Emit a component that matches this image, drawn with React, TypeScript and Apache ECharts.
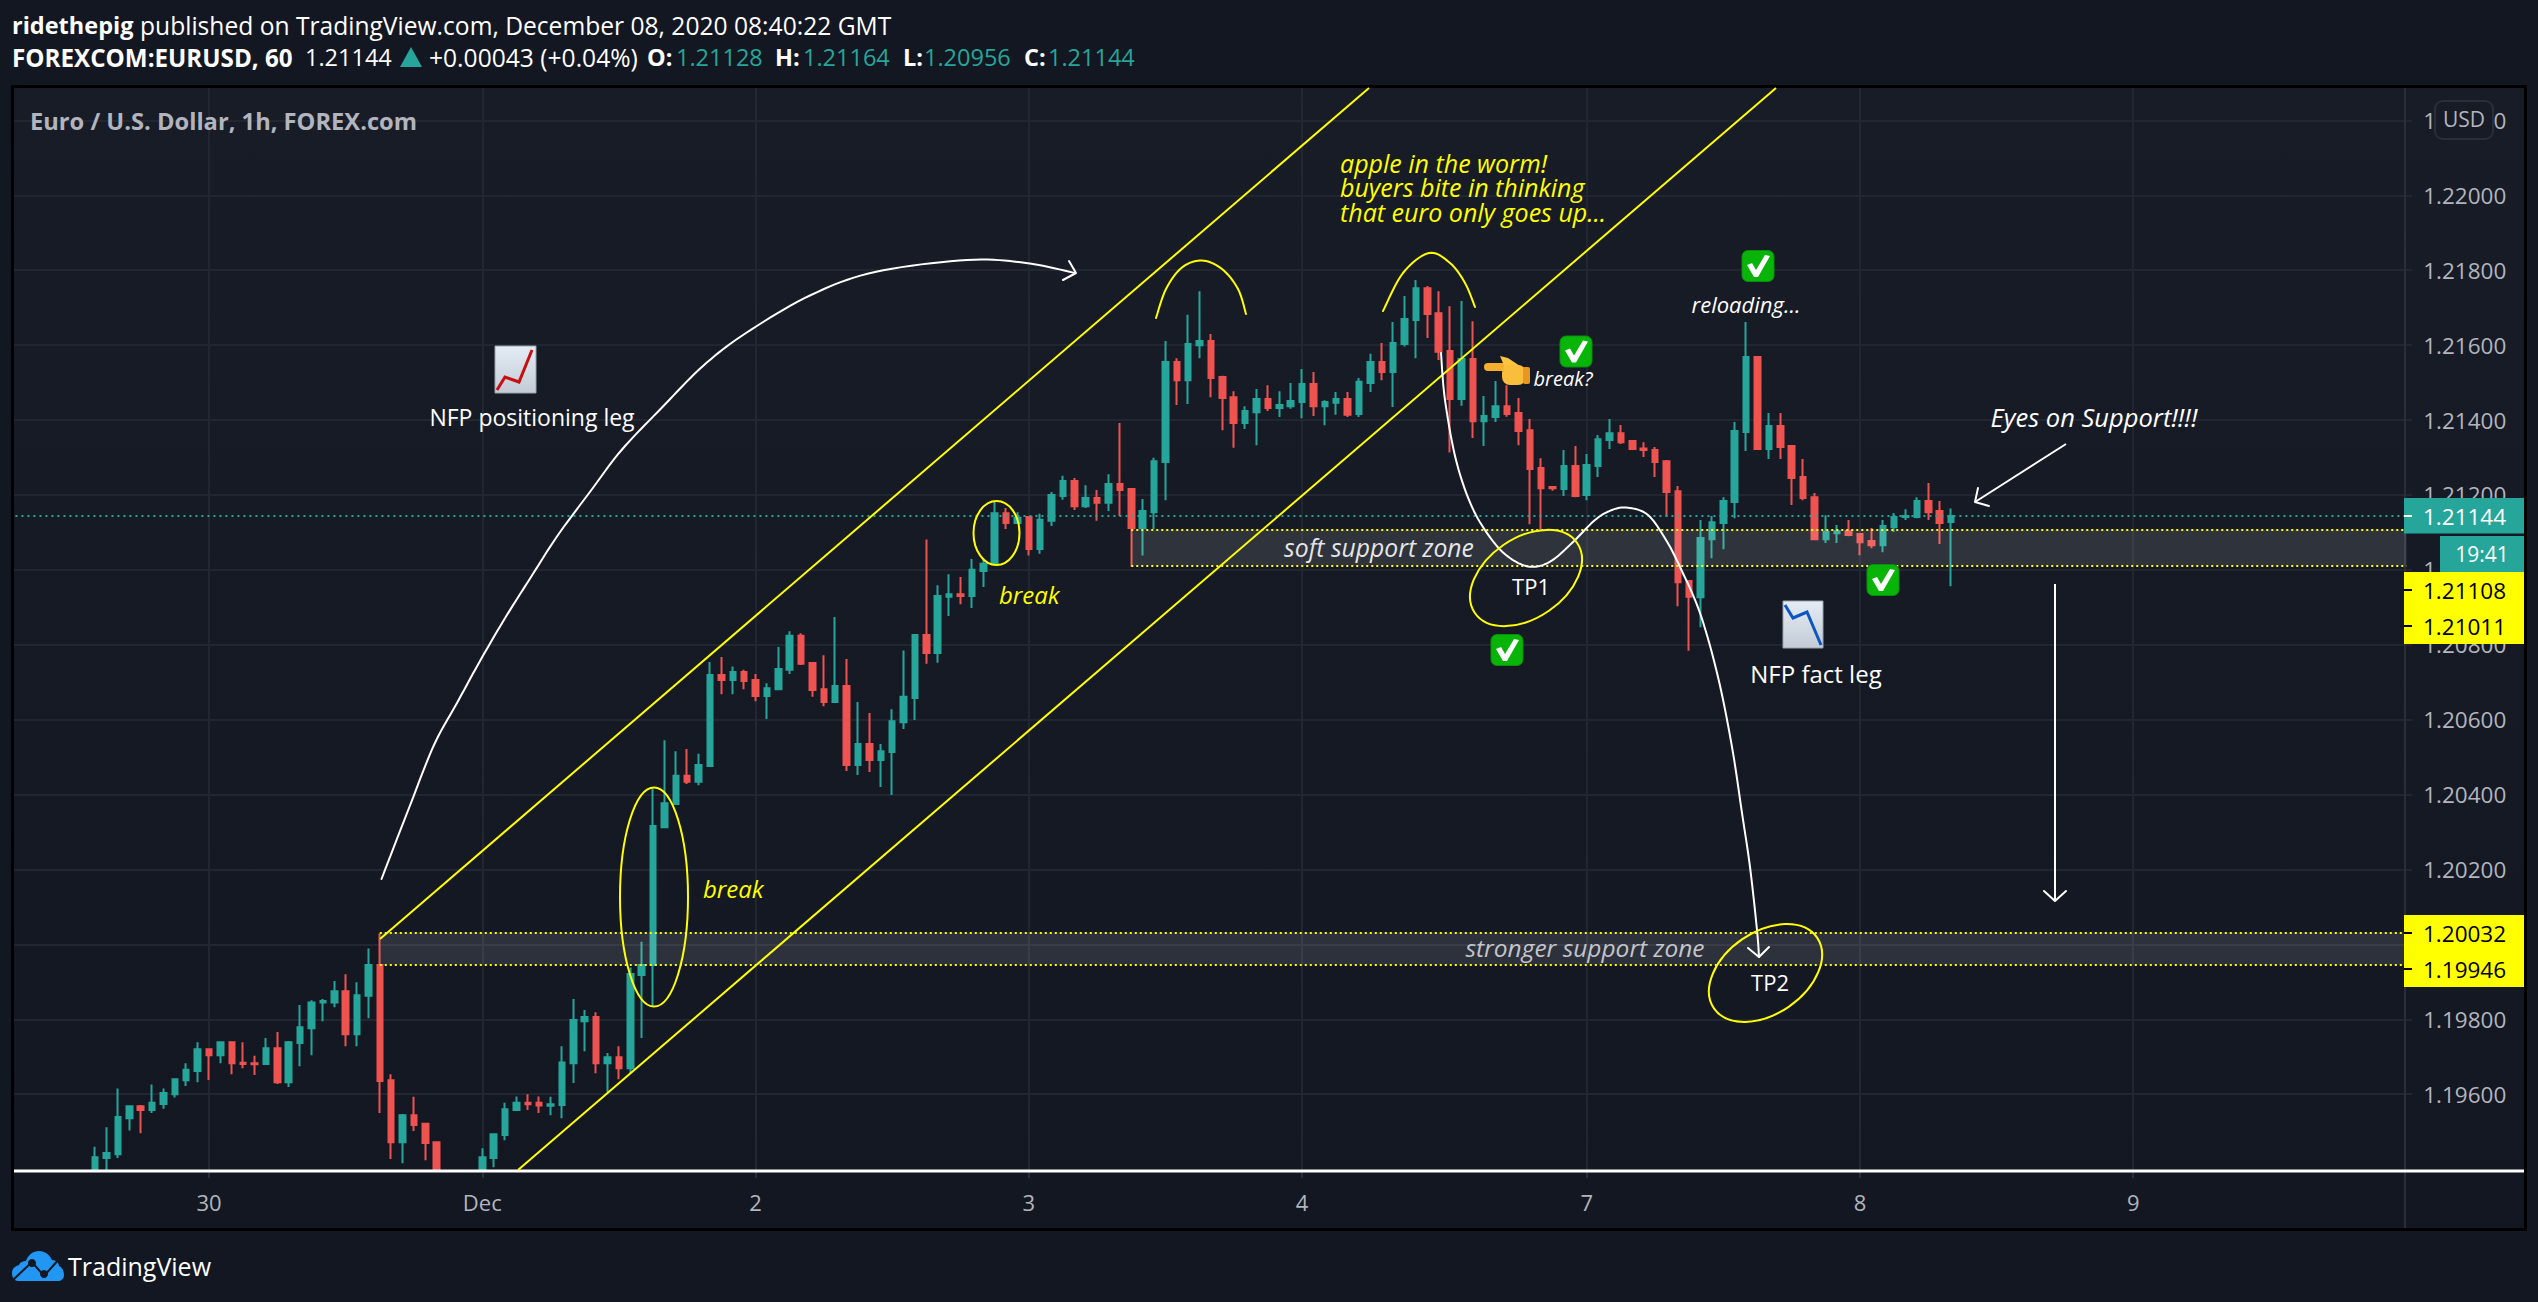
import React, { useEffect, useRef } from "react";
import * as echarts from "echarts";

const FONT = '"Open Sans", sans-serif';
const PAGE = "#131722";
const TEAL = "#26a69a";
const RED = "#ef5350";
const YELLOW = "#ffff00";
const AXIS_TEXT = "#b2b5be";

const slotCount = 211;
const firstCandleSlot = 7;
const dayTickSlots = [17, 41, 65, 89, 113, 138, 162, 186];
const dayTickLabels = ["30", "Dec", "2", "3", "4", "7", "8", "9"];
const priceTicks = [1.196, 1.198, 1.2, 1.202, 1.204, 1.206, 1.208, 1.21, 1.212, 1.214, 1.216, 1.218, 1.22, 1.222];
const lastPrice = 1.21144;
const softZone = [1.21108, 1.21011];
const strongZone = [1.20032, 1.19946];

const opens = [
  1.19396, 1.19430, 1.19440, 1.19536, 1.19568, 1.19558, 1.19574, 1.19600, 1.19637, 1.19662,
  1.19720, 1.19704, 1.19739, 1.19684, 1.19683, 1.19681, 1.19723, 1.19632, 1.19737, 1.19776,
  1.19845, 1.19845, 1.19875, 1.19760, 1.19863, 1.19945, 1.19637, 1.19472, 1.19544, 1.19521,
  1.19472, 1.19380, 1.19370, 1.19385, 1.19396, 1.19430, 1.19491, 1.19558, 1.19577, 1.19577,
  1.19569, 1.19571, 1.19683, 1.19795, 1.19806, 1.19683, 1.19699, 1.19669, 1.19918, 1.19945,
  1.20313, 1.20375, 1.20450, 1.20434, 1.20476, 1.20719, 1.20706, 1.20727, 1.20706, 1.20663,
  1.20681, 1.20733, 1.20824, 1.20751, 1.20681, 1.20647, 1.20690, 1.20479, 1.20535, 1.20492,
  1.20514, 1.20593, 1.20658, 1.20826, 1.20778, 1.20928, 1.20935, 1.20930, 1.20997, 1.21016,
  1.21151, 1.21125, 1.21141, 1.21056, 1.21131, 1.21197, 1.21237, 1.21170, 1.21192, 1.21179,
  1.21229, 1.21216, 1.21111, 1.21154, 1.21288, 1.21555, 1.21506, 1.21600, 1.21611, 1.21515,
  1.21461, 1.21392, 1.21421, 1.21456, 1.21432, 1.21437, 1.21448, 1.21496, 1.21437, 1.21446,
  1.21456, 1.21416, 1.21499, 1.21555, 1.21528, 1.21603, 1.21667, 1.21752, 1.21685, 1.21584,
  1.21456, 1.21563, 1.21397, 1.21408, 1.21437, 1.21419, 1.21373, 1.21272, 1.21221, 1.21216,
  1.21277, 1.21200, 1.21277, 1.21347, 1.21365, 1.21344, 1.21324, 1.21320, 1.21290, 1.21210,
  1.20970, 1.20927, 1.21082, 1.21125, 1.21181, 1.21368, 1.21568, 1.21323, 1.21384, 1.21331,
  1.21248, 1.21194, 1.21082, 1.21098, 1.21103, 1.21096, 1.21077, 1.21066, 1.21114, 1.21141,
  1.21141, 1.21184, 1.21157, 1.21128,
];
const closes = [
  1.19432, 1.19443, 1.19539, 1.19568, 1.19558, 1.19577, 1.19603, 1.19640, 1.19665, 1.19720,
  1.19704, 1.19739, 1.19683, 1.19681, 1.19680, 1.19723, 1.19632, 1.19739, 1.19779, 1.19845,
  1.19849, 1.19875, 1.19760, 1.19864, 1.19945, 1.19635, 1.19472, 1.19544, 1.19518, 1.19470,
  1.19396, 1.19370, 1.19385, 1.19390, 1.19432, 1.19493, 1.19560, 1.19577, 1.19573, 1.19570,
  1.19573, 1.19685, 1.19798, 1.19806, 1.19683, 1.19699, 1.19669, 1.19921, 1.19945, 1.20316,
  1.20377, 1.20450, 1.20434, 1.20479, 1.20719, 1.20706, 1.20727, 1.20703, 1.20663, 1.20684,
  1.20735, 1.20824, 1.20749, 1.20679, 1.20647, 1.20690, 1.20479, 1.20535, 1.20492, 1.20516,
  1.20596, 1.20661, 1.20826, 1.20778, 1.20930, 1.20935, 1.20930, 1.21000, 1.21016, 1.21151,
  1.21125, 1.21139, 1.21056, 1.21134, 1.21200, 1.21237, 1.21170, 1.21192, 1.21179, 1.21229,
  1.21213, 1.21112, 1.21157, 1.21290, 1.21555, 1.21506, 1.21603, 1.21611, 1.21512, 1.21459,
  1.21392, 1.21424, 1.21456, 1.21432, 1.21440, 1.21451, 1.21496, 1.21437, 1.21448, 1.21456,
  1.21414, 1.21502, 1.21555, 1.21528, 1.21606, 1.21670, 1.21752, 1.21683, 1.21582, 1.21456,
  1.21563, 1.21397, 1.21411, 1.21437, 1.21416, 1.21371, 1.21269, 1.21218, 1.21218, 1.21277,
  1.21197, 1.21280, 1.21349, 1.21365, 1.21341, 1.21323, 1.21320, 1.21288, 1.21208, 1.20967,
  1.20928, 1.21085, 1.21127, 1.21184, 1.21371, 1.21568, 1.21323, 1.21384, 1.21328, 1.21245,
  1.21192, 1.21082, 1.21101, 1.21103, 1.21093, 1.21074, 1.21066, 1.21117, 1.21141, 1.21144,
  1.21184, 1.21154, 1.21125, 1.21144,
];
const highs = [
  1.19460, 1.19512, 1.19615, 1.19570, 1.19571, 1.19626, 1.19615, 1.19642, 1.19683, 1.19739,
  1.19723, 1.19740, 1.19740, 1.19739, 1.19703, 1.19750, 1.19766, 1.19742, 1.19838, 1.19851,
  1.19854, 1.19902, 1.19920, 1.19899, 1.19989, 1.20029, 1.19653, 1.19547, 1.19593, 1.19522,
  1.19474, 1.19392, 1.19393, 1.19394, 1.19456, 1.19495, 1.19577, 1.19594, 1.19600, 1.19594,
  1.19593, 1.19728, 1.19854, 1.19825, 1.19819, 1.19710, 1.19728, 1.19938, 1.20007, 1.20416,
  1.20545, 1.20516, 1.20522, 1.20509, 1.20754, 1.20767, 1.20742, 1.20733, 1.20722, 1.20697,
  1.20794, 1.20836, 1.20831, 1.20752, 1.20772, 1.20874, 1.20762, 1.20647, 1.20618, 1.20535,
  1.20628, 1.20785, 1.20829, 1.21081, 1.20959, 1.20988, 1.20981, 1.21029, 1.21030, 1.21181,
  1.21165, 1.21154, 1.21141, 1.21150, 1.21208, 1.21251, 1.21245, 1.21226, 1.21213, 1.21255,
  1.21392, 1.21216, 1.21189, 1.21299, 1.21611, 1.21565, 1.21681, 1.21744, 1.21630, 1.21518,
  1.21477, 1.21437, 1.21483, 1.21493, 1.21477, 1.21499, 1.21536, 1.21528, 1.21453, 1.21475,
  1.21475, 1.21512, 1.21577, 1.21606, 1.21662, 1.21731, 1.21774, 1.21758, 1.21744, 1.21704,
  1.21718, 1.21664, 1.21464, 1.21504, 1.21493, 1.21459, 1.21403, 1.21298, 1.21221, 1.21320,
  1.21331, 1.21309, 1.21360, 1.21403, 1.21387, 1.21347, 1.21341, 1.21328, 1.21293, 1.21224,
  1.20972, 1.21133, 1.21144, 1.21194, 1.21395, 1.21662, 1.21568, 1.21419, 1.21419, 1.21331,
  1.21296, 1.21205, 1.21146, 1.21120, 1.21133, 1.21096, 1.21112, 1.21133, 1.21152, 1.21162,
  1.21194, 1.21232, 1.21184, 1.21164,
];
const lows = [
  1.19396, 1.19396, 1.19430, 1.19503, 1.19496, 1.19550, 1.19561, 1.19591, 1.19622, 1.19632,
  1.19638, 1.19683, 1.19653, 1.19669, 1.19651, 1.19680, 1.19627, 1.19619, 1.19675, 1.19704,
  1.19795, 1.19832, 1.19728, 1.19728, 1.19803, 1.19550, 1.19427, 1.19416, 1.19502, 1.19424,
  1.19396, 1.19340, 1.19350, 1.19360, 1.19396, 1.19405, 1.19477, 1.19556, 1.19558, 1.19550,
  1.19544, 1.19536, 1.19630, 1.19715, 1.19656, 1.19606, 1.19640, 1.19656, 1.19750, 1.19835,
  1.20311, 1.20373, 1.20428, 1.20425, 1.20474, 1.20668, 1.20668, 1.20681, 1.20649, 1.20602,
  1.20679, 1.20722, 1.20746, 1.20661, 1.20636, 1.20645, 1.20463, 1.20452, 1.20460, 1.20420,
  1.20399, 1.20575, 1.20599, 1.20749, 1.20752, 1.20877, 1.20908, 1.20898, 1.20954, 1.21014,
  1.21109, 1.21125, 1.21038, 1.21043, 1.21117, 1.21187, 1.21160, 1.21165, 1.21131, 1.21157,
  1.21144, 1.21009, 1.21038, 1.21109, 1.21186, 1.21440, 1.21443, 1.21565, 1.21461, 1.21373,
  1.21326, 1.21376, 1.21333, 1.21424, 1.21408, 1.21430, 1.21405, 1.21411, 1.21386, 1.21414,
  1.21408, 1.21408, 1.21475, 1.21506, 1.21435, 1.21596, 1.21565, 1.21619, 1.21560, 1.21313,
  1.21438, 1.21352, 1.21331, 1.21395, 1.21409, 1.21333, 1.21122, 1.21106, 1.21211, 1.21197,
  1.21194, 1.21186, 1.21248, 1.21323, 1.21336, 1.21323, 1.21301, 1.21248, 1.21142, 1.20903,
  1.20784, 1.20847, 1.21031, 1.21055, 1.21138, 1.21317, 1.21320, 1.21296, 1.21296, 1.21173,
  1.21186, 1.21082, 1.21072, 1.21072, 1.21090, 1.21039, 1.21058, 1.21047, 1.21101, 1.21133,
  1.21138, 1.21133, 1.21069, 1.20956,
];

const categories = Array.from({ length: slotCount }, (_, i) => {
  const k = dayTickSlots.indexOf(i);
  return k >= 0 ? dayTickLabels[k] : "";
});
const candleData: any[] = [
  ...Array.from({ length: firstCandleSlot }, () => ["-", "-", "-", "-"]),
  ...opens.map((o, i) => [o, closes[i], lows[i], highs[i]]),
];

echarts.graphic.registerShape(
  "tvCloud",
  echarts.graphic.extendPath(
    "M6 30 C2 30 0 26 0 22 C0 18 3 15 7 14 C8 11 11 10 14 10 C16 4 21 0 27 0 C33 0 38 4 40 9 C44 9 47 12 47 15 C50 16 52 20 52 24 C52 28 49 30 46 30 Z",
    {}
  )
);

const Z = 10;
const text = (t: string, x: number, y: number, opt: any = {}) => ({
  type: "text",
  z: opt.z ?? Z,
  silent: true,
  style: {
    text: t,
    x,
    y,
    fill: opt.fill ?? "#ffffff",
    fontSize: opt.size ?? 22,
    fontFamily: FONT,
    fontStyle: opt.italic ? "italic" : "normal",
    fontWeight: opt.bold ? 700 : 400,
    textAlign: opt.align ?? "left",
    textVerticalAlign: "middle",
  },
});
// Hand-drawn strokes of the original: a Catmull-Rom spline through the read points.
const spline = (pts: number[][]) => {
  const out: number[][] = [];
  for (let i = 0; i < pts.length - 1; i++) {
    const p0 = pts[Math.max(i - 1, 0)];
    const p1 = pts[i];
    const p2 = pts[i + 1];
    const p3 = pts[Math.min(i + 2, pts.length - 1)];
    for (let s = 0; s < 10; s++) {
      const t = s / 10;
      const t2 = t * t;
      const t3 = t2 * t;
      out.push(
        [0, 1].map(
          (k) =>
            0.5 *
            (2 * p1[k] +
              (p2[k] - p0[k]) * t +
              (2 * p0[k] - 5 * p1[k] + 4 * p2[k] - p3[k]) * t2 +
              (3 * p1[k] - p0[k] - 3 * p2[k] + p3[k]) * t3)
        )
      );
    }
  }
  out.push(pts[pts.length - 1]);
  return out;
};
const stroke = (pts: number[][], color: string, w = 2) => ({
  type: "polyline",
  z: Z,
  silent: true,
  shape: { points: pts },
  style: { stroke: color, lineWidth: w, fill: "none", lineCap: "round", lineJoin: "round" },
});
const curve = (pts: number[][], color: string, w = 2) => stroke(spline(pts), color, w);
const straight = (x1: number, y1: number, x2: number, y2: number, color: string, w = 2, z = Z) => ({
  type: "line",
  z,
  silent: true,
  shape: { x1, y1, x2, y2 },
  style: { stroke: color, lineWidth: w },
});
const rect = (x: number, y: number, w: number, h: number, fill: any, z = Z, r = 0, line?: string, lw = 0) => ({
  type: "rect",
  z,
  silent: true,
  shape: { x, y, width: w, height: h, r },
  style: { fill, stroke: line, lineWidth: lw },
});
const oval = (cx: number, cy: number, rx: number, ry: number, rot = 0) => ({
  type: "ellipse",
  z: Z,
  silent: true,
  x: cx,
  y: cy,
  rotation: rot,
  shape: { cx: 0, cy: 0, rx, ry },
  style: { stroke: YELLOW, lineWidth: 2, fill: "none" },
});
const check = (cx: number, cy: number) => [
  rect(cx - 16, cy - 15.5, 32, 31, "#08b408", Z + 1, 6, "#0a8f0a", 1),
  {
    type: "polygon",
    z: Z + 2,
    silent: true,
    shape: {
      points: [
        [cx - 11, cy - 1],
        [cx - 6, cy - 3],
        [cx - 2, cy + 4],
        [cx + 7, cy - 11],
        [cx + 12, cy - 10],
        [cx, cy + 11],
        [cx - 4, cy + 11],
      ],
    },
    style: { fill: "#ffffff" },
  },
];
const chartCard = (x: number, y: number, w: number, h: number, pts: number[][], color: string) => [
  {
    type: "rect",
    z: Z + 1,
    silent: true,
    shape: { x, y, width: w, height: h },
    style: {
      fill: new echarts.graphic.LinearGradient(0, 0, 0, 1, [
        { offset: 0, color: "#e4edf5" },
        { offset: 1, color: "#c3ccd6" },
      ]),
      stroke: "#9aa3ae",
      lineWidth: 1,
    },
  },
  {
    type: "polyline",
    z: Z + 2,
    silent: true,
    shape: { points: pts },
    style: { stroke: color, lineWidth: 3, fill: "none" },
  },
];

const annotations: any[] = [
  // panel and frame
  {
    type: "rect",
    z: -10,
    silent: true,
    shape: { x: 14, y: 88, width: 2510, height: 1140 },
    style: {
      fill: new echarts.graphic.LinearGradient(0, 0, 0, 1, [
        { offset: 0, color: "#181c27" },
        { offset: 1, color: "#131722" },
      ]),
    },
  },
  rect(0, 60, 12, 1190, PAGE, 8),
  {
    type: "rect",
    z: 9,
    silent: true,
    shape: { x: 12.5, y: 86.5, width: 2513, height: 1143 },
    style: { fill: "none", stroke: "#000000", lineWidth: 3 },
  },
  straight(2405, 88, 2405, 1228, "#2a2e39", 2, 1),
  straight(14, 1171, 2524, 1171, "#ffffff", 3, 3),

  // header
  text("ridethepig", 12, 25, { bold: true, size: 23.5 }),
  text("published on TradingView.com, December 08, 2020 08:40:22 GMT", 140, 25, { size: 24.6 }),
  text("FOREXCOM:EURUSD, 60", 12, 57, { bold: true, size: 24.2 }),
  text("1.21144", 305, 57, { size: 23.5 }),
  { type: "polygon", z: Z, silent: true, shape: { points: [[411, 47], [422, 67], [400, 67]] }, style: { fill: TEAL } },
  text("+0.00043 (+0.04%)", 429, 57, { size: 24.6 }),
  text("O:", 647, 57, { bold: true, size: 23.5 }),
  text("1.21128", 676, 57, { size: 23.5, fill: TEAL }),
  text("H:", 775, 57, { bold: true, size: 23.5 }),
  text("1.21164", 803, 57, { size: 23.5, fill: TEAL }),
  text("L:", 903, 57, { bold: true, size: 23.5 }),
  text("1.20956", 924, 57, { size: 23.5, fill: TEAL }),
  text("C:", 1024, 57, { bold: true, size: 23.5 }),
  text("1.21144", 1048, 57, { size: 23.5, fill: TEAL }),
  text("Euro / U.S. Dollar, 1h, FOREX.com", 30, 121, { size: 23.7, bold: true, fill: AXIS_TEXT }),

  // channel
  straight(380, 939, 1369, 88, YELLOW, 2),
  straight(518, 1170, 1776, 88, YELLOW, 2),

  // white moves
  curve(
    [[381.5, 879], [409, 808], [434, 745], [457, 703], [480, 661], [504.5, 619], [531, 577], [558, 535], [589.5, 492.5], [621.6, 450], [661.5, 408], [703, 366], [746, 333], [811, 295], [875, 272], [967, 260], [1026, 263], [1075, 273]],
    "#ffffff"
  ),
  stroke([[1069, 261], [1076, 273], [1063, 280]], "#ffffff"),
  curve(
    [[1441, 353], [1445, 400], [1456, 460], [1472, 507], [1492, 540], [1510, 558], [1530, 566.7], [1550, 561.7], [1572, 543], [1595, 520], [1612, 510], [1628, 507.7], [1648, 515], [1666, 540], [1680, 567], [1700, 613], [1718, 677], [1732, 747], [1742, 813], [1750, 867], [1757, 930], [1759, 957]],
    "#ffffff"
  ),
  stroke([[1748, 948], [1759, 957], [1769, 947]], "#ffffff"),
  straight(2066, 444, 1975, 502, "#ffffff", 2),
  stroke([[1978, 488], [1975, 502], [1989, 506]], "#ffffff"),
  straight(2055, 584, 2055, 900, "#ffffff", 2),
  stroke([[2044, 891], [2055, 901], [2066, 891]], "#ffffff"),

  // yellow marks
  curve([[1156, 318], [1166, 289], [1182, 267.5], [1202, 260.5], [1222, 269], [1238, 289], [1246, 314]], YELLOW),
  curve([[1383, 311], [1403, 273], [1429, 253], [1450, 263], [1465, 283], [1475, 307]], YELLOW),
  oval(654, 897, 34, 109.5),
  oval(996.5, 533, 23, 32),
  oval(1526, 578, 62, 40, 0.6),
  oval(1765.5, 973, 62.5, 41, 0.6),

  // notes
  text("NFP positioning leg", 532, 417, { align: "center", size: 23 }),
  text("break", 703, 888, { italic: true, fill: YELLOW, size: 24 }),
  text("break", 999, 594, { italic: true, fill: YELLOW, size: 24 }),
  text("apple in the worm!", 1340, 163, { italic: true, fill: YELLOW, size: 25 }),
  text("buyers bite in thinking", 1340, 187, { italic: true, fill: YELLOW, size: 25 }),
  text("that euro only goes up...", 1340, 212, { italic: true, fill: YELLOW, size: 25 }),
  text("soft support zone", 1379, 547, { italic: true, align: "center", fill: "#e6e6e6", size: 24.7 }),
  text("stronger support zone", 1585, 947, { italic: true, align: "center", fill: "#c3c5cb", size: 24.5 }),
  text("TP1", 1531, 586, { align: "center", size: 22 }),
  text("TP2", 1770, 982, { align: "center", size: 22 }),
  text("NFP fact leg", 1816, 673, { align: "center", size: 24 }),
  text("reloading...", 1746, 304, { italic: true, align: "center", size: 22 }),
  text("break?", 1563, 378, { italic: true, align: "center", size: 20 }),
  text("Eyes on Support!!!!", 2094, 417, { italic: true, align: "center", size: 25.5 }),

  // emoji stand-ins
  ...check(1576, 351.5),
  ...check(1758, 266),
  ...check(1507, 650),
  ...check(1883, 580),
  ...chartCard(495, 346, 41, 47, [[497, 390], [505, 377], [519, 382], [532, 350]], "#c80f0f"),
  ...chartCard(1783, 601, 40, 47, [[1785, 605], [1793, 618], [1807, 612], [1821, 645]], "#0b56c0"),
  rect(1484, 363, 30, 8, "#f6b02c", Z + 1, 4),
  { type: "polygon", z: Z + 1, silent: true, shape: { points: [[1500, 356], [1508, 358], [1520, 366], [1505, 368]] }, style: { fill: "#f9c440" } },
  rect(1502, 365, 24, 20, "#f9bf3c", Z + 1, 8),
  rect(1523, 367, 7, 17, "#e8981e", Z + 1, 2),

  // logo
  { type: "tvCloud", z: Z, silent: true, x: 12, y: 1251, style: { fill: "#2196f3" } },
  {
    type: "polyline",
    z: Z + 1,
    silent: true,
    shape: { points: [[13, 1280], [32, 1262], [44, 1276], [60, 1258]] },
    style: { stroke: PAGE, lineWidth: 2, fill: "none" },
  },
  { type: "circle", z: Z + 1, silent: true, shape: { cx: 32, cy: 1263, r: 4 }, style: { fill: PAGE } },
  { type: "circle", z: Z + 1, silent: true, shape: { cx: 44, cy: 1274, r: 4 }, style: { fill: PAGE } },
  text("TradingView", 68, 1266, { size: 25 }),

  // price tags
  rect(2404, 498, 120, 35.5, TEAL, 12),
  text("1.21144", 2423, 516, { z: 13, size: 22.5 }),
  straight(2404, 516, 2412, 516, "#ffffff", 2, 13),
  rect(2440, 536, 84, 36, TEAL, 12),
  text("19:41", 2482, 554, { z: 13, size: 21, align: "center" }),
  rect(2404, 572, 120, 72, YELLOW, 14),
  text("1.21108", 2423, 590, { z: 15, size: 22.5, fill: "#000000" }),
  text("1.21011", 2423, 626, { z: 15, size: 22.5, fill: "#000000" }),
  straight(2404, 590, 2412, 590, "#000000", 2, 15),
  straight(2404, 626, 2412, 626, "#000000", 2, 15),
  rect(2404, 915, 120, 72, YELLOW, 14),
  text("1.20032", 2423, 933, { z: 15, size: 22.5, fill: "#000000" }),
  text("1.19946", 2423, 969, { z: 15, size: 22.5, fill: "#000000" }),
  straight(2404, 933, 2412, 933, "#000000", 2, 15),
  straight(2404, 969, 2412, 969, "#000000", 2, 15),
  rect(2435, 101, 58, 38, "#171b26", 12, 8, "#2a2e39", 2),
  text("USD", 2464, 119, { z: 13, size: 21, align: "center", fill: AXIS_TEXT }),
];

const zoneArea = (top: number, bottom: number, startSlot: number) => [
  { xAxis: startSlot, yAxis: top },
  { xAxis: slotCount - 1, yAxis: bottom },
];
const hLine = (price: number, startSlot: number) => [
  { xAxis: startSlot, yAxis: price },
  { xAxis: slotCount - 1, yAxis: price },
];

export default function App() {
  const ref = useRef<HTMLDivElement>(null);
  useEffect(() => {
    document.body.style.margin = "0";
    document.body.style.background = PAGE;
    const chart = echarts.init(ref.current!, undefined, { renderer: "svg" });
    chart.setOption({
      animation: false,
      backgroundColor: PAGE,
      grid: { left: 9.75, top: 88, width: 2402.45, height: 1083, containLabel: false },
      xAxis: {
        type: "category",
        data: categories,
        boundaryGap: true,
        axisLine: { show: false },
        axisTick: {
          show: true,
          length: 7,
          alignWithLabel: true,
          interval: (i: number) => dayTickSlots.includes(i),
          lineStyle: { color: "#2a2e39", width: 2 },
        },
        axisLabel: {
          show: true,
          interval: (i: number) => dayTickSlots.includes(i),
          color: AXIS_TEXT,
          fontSize: 22,
          fontFamily: FONT,
          margin: 20,
        },
        splitLine: {
          show: true,
          alignWithLabel: true,
          interval: (i: number) => dayTickSlots.includes(i),
          lineStyle: { color: "#222631", width: 2 },
        },
      },
      yAxis: {
        type: "value",
        position: "right",
        min: 1.19395,
        max: 1.222865,
        scale: true,
        axisLine: { show: false },
        axisTick: { show: false, customValues: priceTicks },
        axisLabel: {
          customValues: priceTicks,
          formatter: (v: number) => v.toFixed(5),
          color: AXIS_TEXT,
          fontSize: 22.5,
          fontFamily: FONT,
          margin: 11,
          align: "left",
        },
        splitLine: { show: true, lineStyle: { color: "#222631", width: 2 } },
      },
      series: [
        {
          type: "candlestick",
          barWidth: 6,
          data: candleData,
          itemStyle: {
            color: TEAL,
            color0: RED,
            borderColor: TEAL,
            borderColor0: RED,
            borderWidth: 2,
          },
          markArea: {
            silent: true,
            z: 5,
            itemStyle: { color: "rgba(255,255,255,0.11)" },
            label: { show: false },
            data: [zoneArea(softZone[0], softZone[1], 98), zoneArea(strongZone[0], strongZone[1], 32)],
          },
          markLine: {
            silent: true,
            z: 6,
            symbol: "none",
            label: { show: false },
            lineStyle: { type: [2, 3], color: YELLOW, width: 2 },
            data: [
              hLine(softZone[0], 98),
              hLine(softZone[1], 98),
              hLine(strongZone[0], 32),
              hLine(strongZone[1], 32),
              hLine(lastPrice, 0).map((p) => ({
                ...p,
                lineStyle: { type: [2, 4], color: TEAL, width: 2 },
              })),
            ],
          },
        },
      ],
      graphic: { elements: annotations },
    });
    return () => chart.dispose();
  }, []);
  return <div ref={ref} style={{ position: "absolute", left: 0, top: 0, width: 2538, height: 1302 }} />;
}
